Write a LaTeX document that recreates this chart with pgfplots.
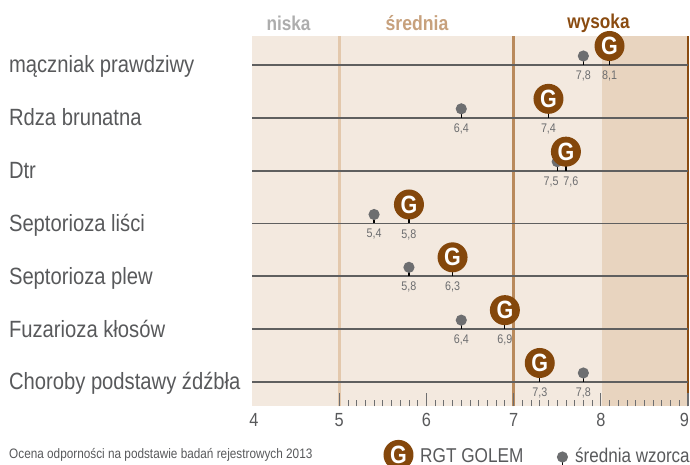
\documentclass[border=0pt]{standalone}
\usepackage{pgfplots}
\usepackage{pgfplotstable}
\usepackage{fontspec}
\setmainfont[FakeStretch=0.86]{Liberation Sans}
\pgfplotsset{compat=1.18}
\definecolor{bgA}{HTML}{F3E9DF}
\definecolor{bgB}{HTML}{E8D4BF}
\definecolor{lineA}{HTML}{E3C8AC}
\definecolor{lineB}{HTML}{B98A5C}
\definecolor{lineC}{HTML}{8A4B10}
\definecolor{gbrown}{HTML}{84470B}
\definecolor{dotgrey}{HTML}{6D6E70}
\definecolor{rowline}{HTML}{5F5F5F}
\definecolor{txt}{HTML}{58595B}
\pgfdeclareplotmark{gpin}{%
  \pgfsetlinewidth{1.2pt}\pgfsetstrokecolor{black}%
  \pgfpathmoveto{\pgfqpoint{0pt}{0pt}}\pgfpathlineto{\pgfqpoint{0pt}{8pt}}\pgfusepathqstroke
  \pgfsetfillcolor{gbrown}%
  \pgfpathcircle{\pgfqpoint{0pt}{19pt}}{15pt}\pgfusepathqfill}
\pgfdeclareplotmark{dotpin}{%
  \pgfsetlinewidth{1.2pt}\pgfsetstrokecolor{black}%
  \pgfpathmoveto{\pgfqpoint{0pt}{0pt}}\pgfpathlineto{\pgfqpoint{0pt}{6pt}}\pgfusepathqstroke
  \pgfsetfillcolor{dotgrey}%
  \pgfpathcircle{\pgfqpoint{0pt}{9pt}}{5.6pt}\pgfusepathqfill}
\pgfplotstableread{
x y
8.1 6
7.4 5
7.6 4
5.8 3
6.3 2
6.9 1
7.3 0
}\golem
\pgfplotstableread{
x y
7.8 6
6.4 5
7.5 4
5.4 3
5.8 2
6.4 1
7.8 0
}\wzorzec
\pgfplotstableread{
x y
8.1 6
7.4 5
5.8 3
6.3 2
6.9 1
7.3 0
7.8 6
6.4 5
5.4 3
5.8 2
6.4 1
7.8 0
}\labels
\pgfplotstableread{
x y
5.68 -1.38
}\legG
\pgfplotstableread{
x y
7.56 -1.42
}\legD
\begin{document}
\begin{tikzpicture}[x=1pt,y=1pt]
\path[use as bounding box] (0,0) rectangle (690,465);
\begin{axis}[
  at={(252pt,58.5pt)}, anchor=south west,
  scale only axis, width=436pt, height=370.5pt,
  xmin=4, xmax=9, ymin=-0.464, ymax=6.549,
  clip=false, axis on top=true,
  axis line style={draw=none},
  axis background/.style={fill=bgA},
  xtick={4,5,6,7,8,9},
  xticklabels={\hspace{4pt}4,5,6,7,8,9\hspace{7pt}\mbox{}},
  major tick length=0pt,
  xtick pos=bottom, ytick pos=left,
  extra x ticks={5,6,7,8,9},
  extra x tick labels={},
  extra x tick style={major tick length=13pt, tick align=inside, tick style={dotgrey,line width=1.2pt}},
  minor xtick={5.1,5.2,5.3,5.4,5.5,5.6,5.7,5.8,5.9,6.1,6.2,6.3,6.4,6.5,6.6,6.7,6.8,6.9,7.1,7.2,7.3,7.4,7.5,7.6,7.7,7.8,7.9,8.1,8.2,8.3,8.4,8.5,8.6,8.7,8.8,8.9},
  minor tick length=6.5pt,
  minor tick style={dotgrey,line width=0.8pt},
  tick align=inside,
  xticklabel style={font=\fontsize{19}{19}\selectfont, text=txt, yshift=-3pt},
  ytick={0,1,2,3,4,5,6},
  yticklabels={Choroby podstawy źdźbła,Fuzarioza kłosów,Septorioza plew,Septorioza liści,Dtr,Rdza brunatna,mączniak prawdziwy},
  yticklabel style={font=\fontsize{23.5}{23.5}\selectfont, text=txt, anchor=west, xshift=-246.5pt, yshift=-2.5pt, text height=16pt, text depth=5pt},
  /pgf/number format/assume math mode=true,
  /pgf/number format/use comma,
  /pgf/number format/fixed, /pgf/number format/fixed zerofill, /pgf/number format/precision=1,
]
% bands
\addplot[draw=none, fill=bgB, forget plot] coordinates {(8.01,-0.464)(9,-0.464)(9,6.549)(8.01,6.549)} -- cycle;
\addplot[lineA, line width=2.6pt, forget plot] coordinates {(5,-0.464)(5,6.549)};
\addplot[lineB, line width=2.6pt, forget plot] coordinates {(7,-0.464)(7,6.549)};
\addplot[lineC, line width=2pt, forget plot] coordinates {(9,-0.464)(9,6.549)};
% row lines
\addplot[rowline, line width=1.9pt, forget plot] coordinates {(4,6)(9,6)};
\addplot[rowline, line width=1.9pt, forget plot] coordinates {(4,5)(9,5)};
\addplot[rowline, line width=1.9pt, forget plot] coordinates {(4,4)(9,4)};
\addplot[rowline, line width=1.9pt, forget plot] coordinates {(4,3)(9,3)};
\addplot[rowline, line width=1.9pt, forget plot] coordinates {(4,2)(9,2)};
\addplot[rowline, line width=1.9pt, forget plot] coordinates {(4,1)(9,1)};
\addplot[rowline, line width=1.9pt, forget plot] coordinates {(4,0)(9,0)};
% reference average
\addplot[only marks, mark=dotpin] table[x=x,y=y] {\wzorzec};
% variety
\addplot[only marks, mark=gpin] table[x=x,y=y] {\golem};
% value labels
\addplot[only marks, mark=none, point meta=x,
  nodes near coords, every node near coord/.append style={font=\fontsize{12.5}{12.5}\selectfont, text=dotgrey, anchor=center, yshift=-11pt, inner sep=0pt}]
  table[x=x,y=y] {\labels};
\addplot[only marks, mark=none, point meta=x,
  nodes near coords, every node near coord/.append style={font=\fontsize{12.5}{12.5}\selectfont, text=dotgrey, anchor=center, yshift=-11pt, xshift=-6pt, inner sep=0pt}]
  coordinates {(7.5,4)};
\addplot[only marks, mark=none, point meta=x,
  nodes near coords, every node near coord/.append style={font=\fontsize{12.5}{12.5}\selectfont, text=dotgrey, anchor=center, yshift=-11pt, xshift=5pt, inner sep=0pt}]
  coordinates {(7.6,4)};
\addplot[only marks, mark=none,
  nodes near coords={\textbf{G}}, every node near coord/.append style={font=\fontsize{25}{25}\selectfont\bfseries, text=white, anchor=center, yshift=19pt, inner sep=0pt}]
  table[x=x,y=y] {\golem};
% legend keys
\addplot[only marks, mark=gpin, yshift=-19pt] table[x=x,y=y] {\legG};
\addplot[only marks, mark=none,
  nodes near coords={\textbf{G}}, every node near coord/.append style={font=\fontsize{25}{25}\selectfont\bfseries, text=white, anchor=center, inner sep=0pt}]
  table[x=x,y=y] {\legG};
\addplot[only marks, mark=dotpin, yshift=-9pt] table[x=x,y=y] {\legD};
\end{axis}
\node[font=\fontsize{20}{20}\selectfont\bfseries, text=black!32!white, anchor=center] at (288.5,442) {niska};
\node[font=\fontsize{20.5}{20.5}\selectfont\bfseries, text=lineB!80!white, anchor=center] at (417,442) {średnia};
\node[font=\fontsize{20}{20}\selectfont\bfseries, text=lineC, anchor=center] at (598.5,442) {wysoka};
\node[font=\fontsize{13.7}{13.7}\selectfont, text=txt, anchor=west, inner sep=0pt] at (9,10.5) {Ocena odporności na podstawie badań rejestrowych 2013};
\node[font=\fontsize{20}{20}\selectfont, text=txt, anchor=west, inner sep=0pt] at (420,9.5) {RGT GOLEM};
\node[font=\fontsize{19.8}{19.8}\selectfont, text=txt, anchor=west, inner sep=0pt] at (575,9.5) {średnia wzorca};
\end{tikzpicture}
\end{document}
